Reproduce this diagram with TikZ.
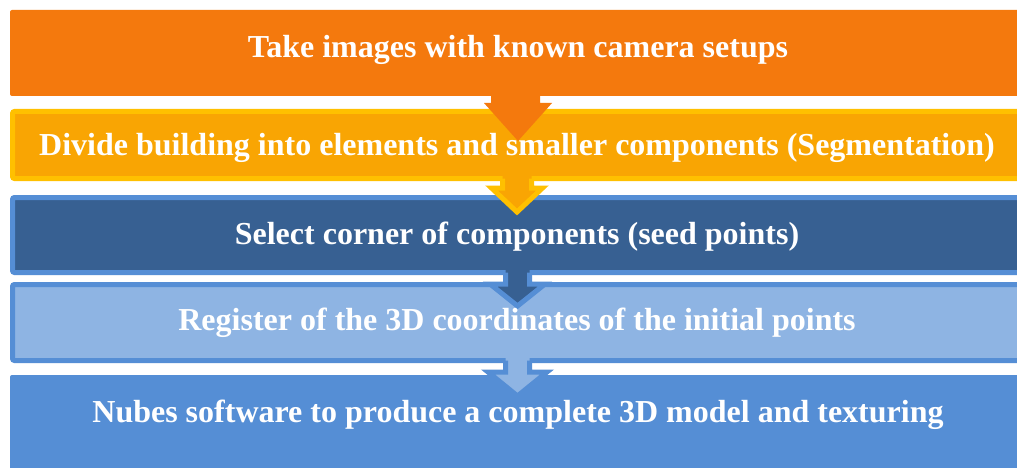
\documentclass[tikz,border=0pt]{standalone}
\usepackage{fontspec}
\setmainfont{Liberation Serif}
\definecolor{cOrange}{RGB}{244,121,13}
\definecolor{cGold}{RGB}{249,165,3}
\definecolor{cYellow}{RGB}{255,192,0}
\definecolor{cDark}{RGB}{55,96,146}
\definecolor{cLight}{RGB}{142,180,227}
\definecolor{cMid}{RGB}{85,142,213}
\tikzset{
  lbl/.style={text=white,font=\fontsize{32}{36}\bfseries\selectfont,inner sep=0pt},
  bx/.style={rounded corners=2pt},
  bd/.style={line width=5pt,line join=miter},
}
\begin{document}
\begin{tikzpicture}[x=1pt,y=-1pt]
\useasboundingbox (0,0) rectangle (1017,468);
\fill[white] (0,0) rectangle (1017,468);
\clip (0,0) rectangle (1017,468);
% box 1
\fill[cOrange,bx] (10,10) rectangle (1040,96);
% box 2
\draw[bx,bd,fill=cGold,draw=cYellow] (12.5,111.5) rectangle (1040,178.5);
% arrow 1
\fill[cOrange] (491,90) -- (491,103) -- (484,103) -- (518,141) -- (552,103) -- (540,103) -- (540,90) -- cycle;
% box 3
\draw[bx,bd,fill=cDark,draw=cMid] (12.5,197.5) rectangle (1040,272.5);
% arrow 2
\fill[cGold] (502.5,174) -- (502.5,188) -- (491.5,188) -- (517,212) -- (542.5,188) -- (531.5,188) -- (531.5,174) -- cycle;
\draw[cYellow,bd] (502.5,178.5) -- (502.5,188) -- (491.5,188) -- (517,212) -- (542.5,188) -- (531.5,188) -- (531.5,178.5);
% box 4
\draw[bx,bd,fill=cLight,draw=cMid] (12.5,284.5) rectangle (1040,360.5);
% arrow 3
\fill[cDark] (505.5,268) -- (505.5,284) -- (490,284) -- (517.5,306) -- (545,284) -- (529.5,284) -- (529.5,268) -- cycle;
\draw[cMid,bd] (505.5,272.5) -- (505.5,284) -- (490,284) -- (517.5,306) -- (545,284) -- (529.5,284) -- (529.5,272.5);
% box 5
\fill[cMid,bx] (10,375) rectangle (1040,480);
% arrow 4
\fill[cLight] (505.5,356) -- (505.5,372) -- (488,372) -- (517.5,396) -- (547,372) -- (529.5,372) -- (529.5,356) -- cycle;
\draw[cMid,bd] (505.5,360.5) -- (505.5,372) -- (488,372) -- (517.5,396) -- (547,372) -- (529.5,372) -- (529.5,360.5);
% labels
\node[lbl] (t1) at (518,50) {Take images with known camera setups};
\node[lbl] (t2) at (517,148) {Divide building into elements and smaller components (Segmentation)};
\node[lbl] (t3) at (517,237) {Select corner of components (seed points)};
\node[lbl] (t4) at (517,323) {Register of the 3D coordinates of the initial points};
\node[lbl] (t5) at (518,415) {Nubes software to produce a complete 3D model and texturing};
\end{tikzpicture}
\end{document}
